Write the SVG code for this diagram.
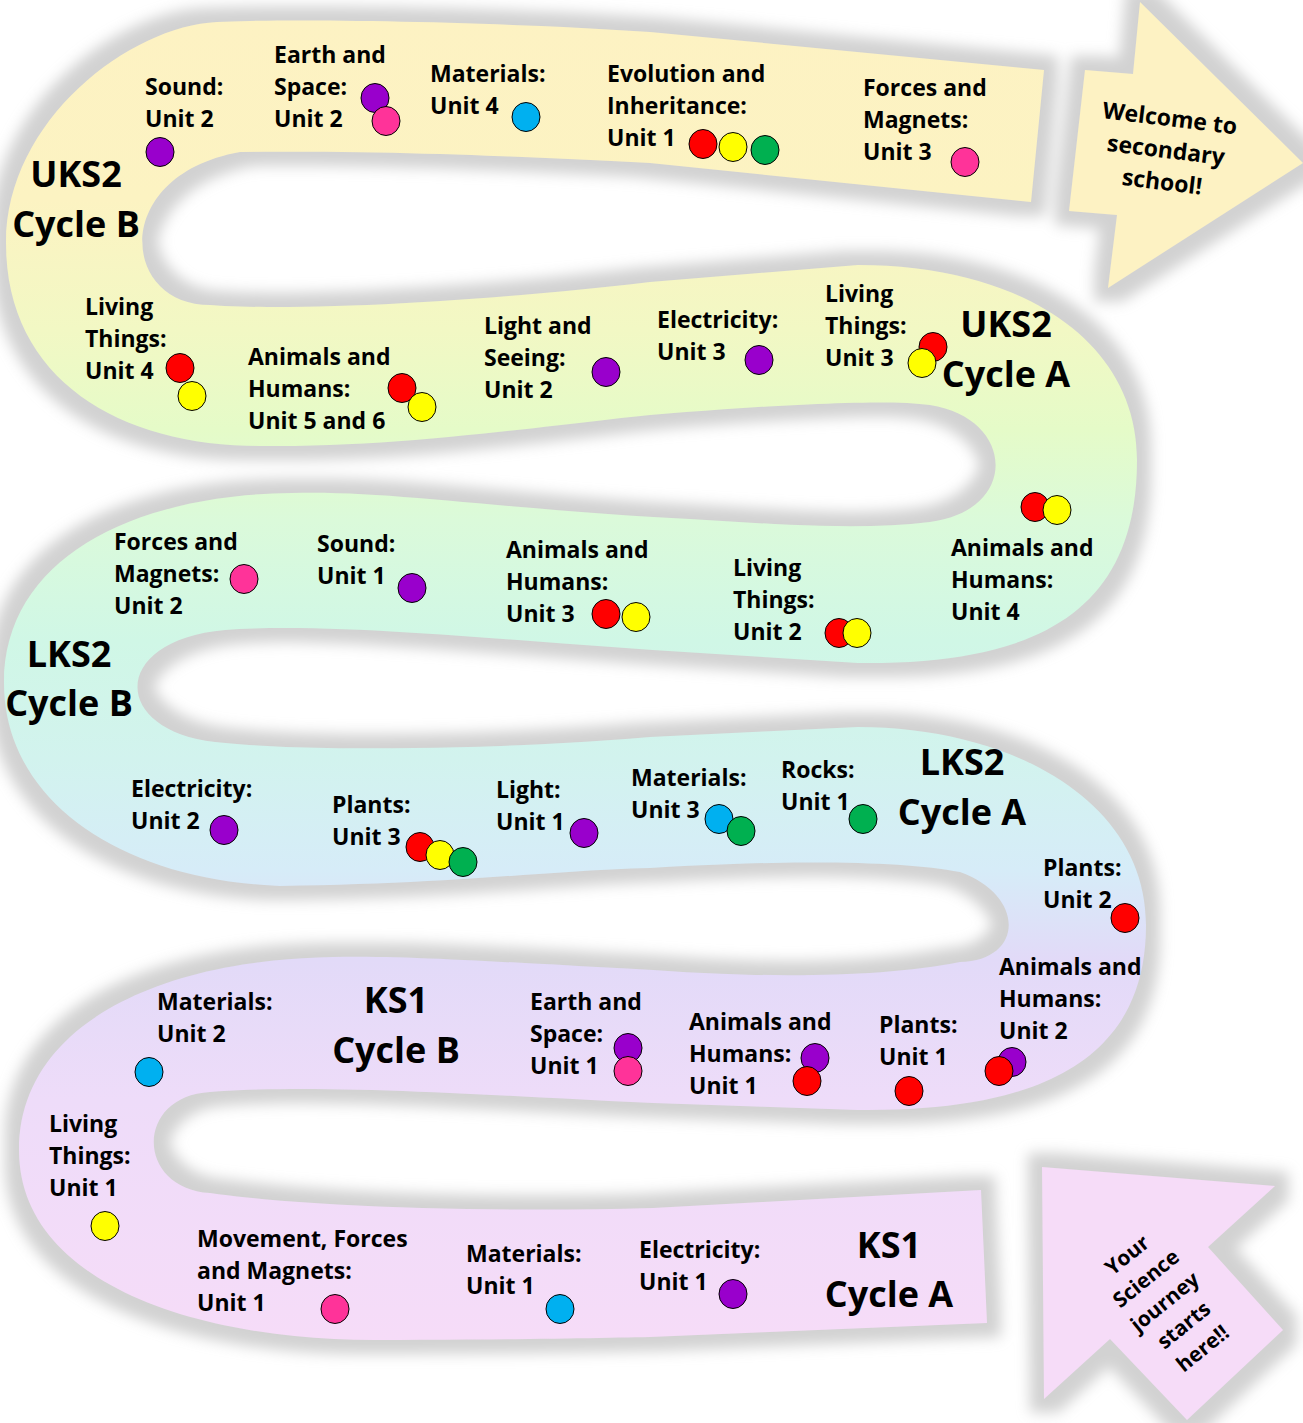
<svg xmlns="http://www.w3.org/2000/svg" width="1303" height="1423" viewBox="0 0 1303 1423">
<defs>
<linearGradient id="roadGrad" gradientUnits="userSpaceOnUse" x1="0" y1="20" x2="0" y2="1340">
<stop offset="0" stop-color="#FDF2C3"/>
<stop offset="0.136" stop-color="#FCF3C2"/>
<stop offset="0.235" stop-color="#F2F8C4"/>
<stop offset="0.31" stop-color="#E5FBC8"/>
<stop offset="0.379" stop-color="#DBFADA"/>
<stop offset="0.47" stop-color="#D0F7E6"/>
<stop offset="0.56" stop-color="#D2F3EE"/>
<stop offset="0.644" stop-color="#D6ECF8"/>
<stop offset="0.712" stop-color="#E2DAF8"/>
<stop offset="0.818" stop-color="#EEDCF9"/>
<stop offset="1" stop-color="#F6DCF8"/>
</linearGradient>
<filter id="shadow" x="-5%" y="-5%" width="110%" height="110%">
<feMorphology in="SourceAlpha" operator="dilate" radius="14" result="d"/>
<feGaussianBlur in="d" stdDeviation="7" result="b"/>
<feFlood flood-color="#d2d2d2"/>
<feComposite in2="b" operator="in" result="s"/>
<feMerge><feMergeNode in="s"/><feMergeNode in="SourceGraphic"/></feMerge>
</filter>
<style>
.l{font-family:"Open Sans","Liberation Sans",sans-serif;font-weight:700;font-size:23px;fill:#000}
.h{font-family:"Open Sans","Liberation Sans",sans-serif;font-weight:700;font-size:36px;fill:#000;text-anchor:middle}
.a{font-family:"Open Sans","Liberation Sans",sans-serif;font-weight:700;font-size:23px;fill:#000;text-anchor:middle}
.s{font-family:"Open Sans","Liberation Sans",sans-serif;font-weight:700;font-size:21px;fill:#000;text-anchor:middle}
.dot{stroke:#000;stroke-width:1}
.pu{fill:#9900CC}.pk{fill:#FF3399}.bl{fill:#00B0F0}.rd{fill:#FF0000}.ye{fill:#FFFF00}.gr{fill:#00B050}
</style>
</defs>
<rect width="1303" height="1423" fill="#fff"/>
<g id="road" filter="url(#shadow)">
<path fill="url(#roadGrad)" d="M 981 1190 L 653 1208 C 480 1213 300 1206 210 1193 C 135 1188 135 1096 210 1092 C 320 1083 500 1096 653 1103 L 858 1110 C 1040 1112 1146 1060 1146 925 C 1146 800 1010 727 858 727 L 650 737 C 500 750 300 752 215 742 C 110 730 110 640 225 630 C 330 622 500 640 653 650 L 858 663 C 1040 665 1137 610 1137 460 C 1137 340 1020 265 858 265 L 650 282 C 500 300 300 312 210 305 C 120 305 110 175 240 152 C 400 150 550 158 650 163 L 1031 202 L 1044 70 L 650 32 C 500 22 300 18 217 22 C 130 26 6 120 6 243 C 6 380 120 446 260 446 C 400 448 550 425 650 415 C 750 407 880 398 930 405 C 1015 418 1020 510 930 522 C 850 532 750 522 653 517 C 500 508 380 490 292 493 C 130 495 4 560 4 683 C 4 800 120 880 280 886 C 450 884 560 870 650 868 C 780 860 900 860 960 872 C 1025 895 1025 960 960 962 C 880 978 760 978 653 970 C 500 962 400 955 333 957 C 150 960 19 1030 19 1150 C 19 1280 190 1340 375 1340 C 500 1340 600 1338 650 1337 L 987 1323 Z"/>
<polygon id="end-arrow-shape" fill="#FDF2C3" points="1085,70 1133,74 1140,2 1303,163 1108,288 1117,215 1069,211"/>
<polygon id="start-arrow-shape" fill="#F6DCF8" points="1042,1167 1275,1186 1208,1247 1283,1330 1187,1420 1110,1339 1044,1399"/>
</g>

<g id="end-arrow"><text class="a" transform="translate(1166,150) rotate(7)"><tspan x="0" y="-24">Welcome to</tspan><tspan x="0" y="8">secondary</tspan><tspan x="0" y="40">school!</tspan></text></g>
<g id="start-arrow"><text class="s" transform="translate(1165,1302) rotate(-39)"><tspan x="0" y="-53">Your</tspan><tspan x="0" y="-23">Science</tspan><tspan x="0" y="7">journey</tspan><tspan x="0" y="37">starts</tspan><tspan x="0" y="67">here!!</tspan></text></g>

<g id="hdr-uks2-b"><text class="h"><tspan x="76" y="187">UKS2</tspan><tspan x="76" y="237">Cycle B</tspan></text></g>
<g id="hdr-uks2-a"><text class="h"><tspan x="1006" y="337">UKS2</tspan><tspan x="1006" y="387">Cycle A</tspan></text></g>
<g id="hdr-lks2-b"><text class="h"><tspan x="69" y="667">LKS2</tspan><tspan x="69" y="716">Cycle B</tspan></text></g>
<g id="hdr-lks2-a"><text class="h"><tspan x="962" y="775">LKS2</tspan><tspan x="962" y="825">Cycle A</tspan></text></g>
<g id="hdr-ks1-b"><text class="h"><tspan x="396" y="1013">KS1</tspan><tspan x="396" y="1063">Cycle B</tspan></text></g>
<g id="hdr-ks1-a"><text class="h"><tspan x="889" y="1258">KS1</tspan><tspan x="889" y="1307">Cycle A</tspan></text></g>

<g id="n1"><text class="l"><tspan x="145" y="95">Sound:</tspan><tspan x="145" y="127">Unit 2</tspan></text><ellipse class="dot pu" cx="160" cy="152" rx="14" ry="14.5"/></g>
<g id="n2"><text class="l"><tspan x="274" y="63">Earth and</tspan><tspan x="274" y="95">Space:</tspan><tspan x="274" y="127">Unit 2</tspan></text><ellipse class="dot pu" cx="375" cy="98" rx="14" ry="14.5"/><ellipse class="dot pk" cx="386" cy="121" rx="14" ry="14.5"/></g>
<g id="n3"><text class="l"><tspan x="430" y="82">Materials:</tspan><tspan x="430" y="114">Unit 4</tspan></text><ellipse class="dot bl" cx="526" cy="117" rx="14" ry="14.5"/></g>
<g id="n4"><text class="l"><tspan x="607" y="82">Evolution and</tspan><tspan x="607" y="114">Inheritance:</tspan><tspan x="607" y="146">Unit 1</tspan></text><ellipse class="dot rd" cx="703" cy="144" rx="14" ry="14.5"/><ellipse class="dot ye" cx="733" cy="147" rx="14" ry="14.5"/><ellipse class="dot gr" cx="765" cy="150" rx="14" ry="14.5"/></g>
<g id="n5"><text class="l"><tspan x="863" y="96">Forces and</tspan><tspan x="863" y="128">Magnets:</tspan><tspan x="863" y="160">Unit 3</tspan></text><ellipse class="dot pk" cx="965" cy="162" rx="14" ry="14.5"/></g>

<g id="n6"><text class="l"><tspan x="85" y="315">Living</tspan><tspan x="85" y="347">Things:</tspan><tspan x="85" y="379">Unit 4</tspan></text><ellipse class="dot rd" cx="180" cy="368" rx="14" ry="14.5"/><ellipse class="dot ye" cx="192" cy="396" rx="14" ry="14.5"/></g>
<g id="n7"><text class="l"><tspan x="248" y="365">Animals and</tspan><tspan x="248" y="397">Humans:</tspan><tspan x="248" y="429">Unit 5 and 6</tspan></text><ellipse class="dot rd" cx="402" cy="388" rx="14" ry="14.5"/><ellipse class="dot ye" cx="422" cy="407" rx="14" ry="14.5"/></g>
<g id="n8"><text class="l"><tspan x="484" y="334">Light and</tspan><tspan x="484" y="366">Seeing:</tspan><tspan x="484" y="398">Unit 2</tspan></text><ellipse class="dot pu" cx="606" cy="372" rx="14" ry="14.5"/></g>
<g id="n9"><text class="l"><tspan x="657" y="328">Electricity:</tspan><tspan x="657" y="360">Unit 3</tspan></text><ellipse class="dot pu" cx="759" cy="360" rx="14" ry="14.5"/></g>
<g id="n10"><text class="l"><tspan x="825" y="302">Living</tspan><tspan x="825" y="334">Things:</tspan><tspan x="825" y="366">Unit 3</tspan></text><ellipse class="dot rd" cx="933" cy="347" rx="14" ry="14.5"/><ellipse class="dot ye" cx="922" cy="363" rx="14" ry="14.5"/></g>

<g id="n11"><ellipse class="dot rd" cx="1035" cy="507" rx="14" ry="14.5"/><ellipse class="dot ye" cx="1057" cy="510" rx="14" ry="14.5"/><text class="l"><tspan x="951" y="556">Animals and</tspan><tspan x="951" y="588">Humans:</tspan><tspan x="951" y="620">Unit 4</tspan></text></g>
<g id="n12"><text class="l"><tspan x="733" y="576">Living</tspan><tspan x="733" y="608">Things:</tspan><tspan x="733" y="640">Unit 2</tspan></text><ellipse class="dot rd" cx="839" cy="633" rx="14" ry="14.5"/><ellipse class="dot ye" cx="857" cy="633" rx="14" ry="14.5"/></g>
<g id="n13"><text class="l"><tspan x="506" y="558">Animals and</tspan><tspan x="506" y="590">Humans:</tspan><tspan x="506" y="622">Unit 3</tspan></text><ellipse class="dot rd" cx="606" cy="614" rx="14" ry="14.5"/><ellipse class="dot ye" cx="636" cy="617" rx="14" ry="14.5"/></g>
<g id="n14"><text class="l"><tspan x="317" y="552">Sound:</tspan><tspan x="317" y="584">Unit 1</tspan></text><ellipse class="dot pu" cx="412" cy="588" rx="14" ry="14.5"/></g>
<g id="n15"><text class="l"><tspan x="114" y="550">Forces and</tspan><tspan x="114" y="582">Magnets:</tspan><tspan x="114" y="614">Unit 2</tspan></text><ellipse class="dot pk" cx="244" cy="579" rx="14" ry="14.5"/></g>

<g id="n16"><text class="l"><tspan x="131" y="797">Electricity:</tspan><tspan x="131" y="829">Unit 2</tspan></text><ellipse class="dot pu" cx="224" cy="830" rx="14" ry="14.5"/></g>
<g id="n17"><text class="l"><tspan x="332" y="813">Plants:</tspan><tspan x="332" y="845">Unit 3</tspan></text><ellipse class="dot rd" cx="420" cy="847" rx="14" ry="14.5"/><ellipse class="dot ye" cx="440" cy="855" rx="14" ry="14.5"/><ellipse class="dot gr" cx="463" cy="862" rx="14" ry="14.5"/></g>
<g id="n18"><text class="l"><tspan x="496" y="798">Light:</tspan><tspan x="496" y="830">Unit 1</tspan></text><ellipse class="dot pu" cx="584" cy="833" rx="14" ry="14.5"/></g>
<g id="n19"><text class="l"><tspan x="631" y="786">Materials:</tspan><tspan x="631" y="818">Unit 3</tspan></text><ellipse class="dot bl" cx="719" cy="819" rx="14" ry="14.5"/><ellipse class="dot gr" cx="741" cy="831" rx="14" ry="14.5"/></g>
<g id="n20"><text class="l"><tspan x="781" y="778">Rocks:</tspan><tspan x="781" y="810">Unit 1</tspan></text><ellipse class="dot gr" cx="863" cy="819" rx="14" ry="14.5"/></g>
<g id="n21"><text class="l"><tspan x="1043" y="876">Plants:</tspan><tspan x="1043" y="908">Unit 2</tspan></text><ellipse class="dot rd" cx="1125" cy="918" rx="14" ry="14.5"/></g>

<g id="n22"><text class="l"><tspan x="999" y="975">Animals and</tspan><tspan x="999" y="1007">Humans:</tspan><tspan x="999" y="1039">Unit 2</tspan></text><ellipse class="dot pu" cx="1012" cy="1062" rx="14" ry="14.5"/><ellipse class="dot rd" cx="999" cy="1071" rx="14" ry="14.5"/></g>
<g id="n23"><text class="l"><tspan x="879" y="1033">Plants:</tspan><tspan x="879" y="1065">Unit 1</tspan></text><ellipse class="dot rd" cx="909" cy="1091" rx="14" ry="14.5"/></g>
<g id="n24"><text class="l"><tspan x="689" y="1030">Animals and</tspan><tspan x="689" y="1062">Humans:</tspan><tspan x="689" y="1094">Unit 1</tspan></text><ellipse class="dot pu" cx="815" cy="1058" rx="14" ry="14.5"/><ellipse class="dot rd" cx="807" cy="1081" rx="14" ry="14.5"/></g>
<g id="n25"><text class="l"><tspan x="530" y="1010">Earth and</tspan><tspan x="530" y="1042">Space:</tspan><tspan x="530" y="1074">Unit 1</tspan></text><ellipse class="dot pu" cx="628" cy="1048" rx="14" ry="14.5"/><ellipse class="dot pk" cx="628" cy="1071" rx="14" ry="14.5"/></g>
<g id="n26"><text class="l"><tspan x="157" y="1010">Materials:</tspan><tspan x="157" y="1042">Unit 2</tspan></text><ellipse class="dot bl" cx="149" cy="1072" rx="14" ry="14.5"/></g>

<g id="n27"><text class="l"><tspan x="49" y="1132">Living</tspan><tspan x="49" y="1164">Things:</tspan><tspan x="49" y="1196">Unit 1</tspan></text><ellipse class="dot ye" cx="105" cy="1226" rx="14" ry="14.5"/></g>
<g id="n28"><text class="l"><tspan x="197" y="1247">Movement, Forces</tspan><tspan x="197" y="1279">and Magnets:</tspan><tspan x="197" y="1311">Unit 1</tspan></text><ellipse class="dot pk" cx="335" cy="1309" rx="14" ry="14.5"/></g>
<g id="n29"><text class="l"><tspan x="466" y="1262">Materials:</tspan><tspan x="466" y="1294">Unit 1</tspan></text><ellipse class="dot bl" cx="560" cy="1309" rx="14" ry="14.5"/></g>
<g id="n30"><text class="l"><tspan x="639" y="1258">Electricity:</tspan><tspan x="639" y="1290">Unit 1</tspan></text><ellipse class="dot pu" cx="733" cy="1294" rx="14" ry="14.5"/></g>
</svg>
